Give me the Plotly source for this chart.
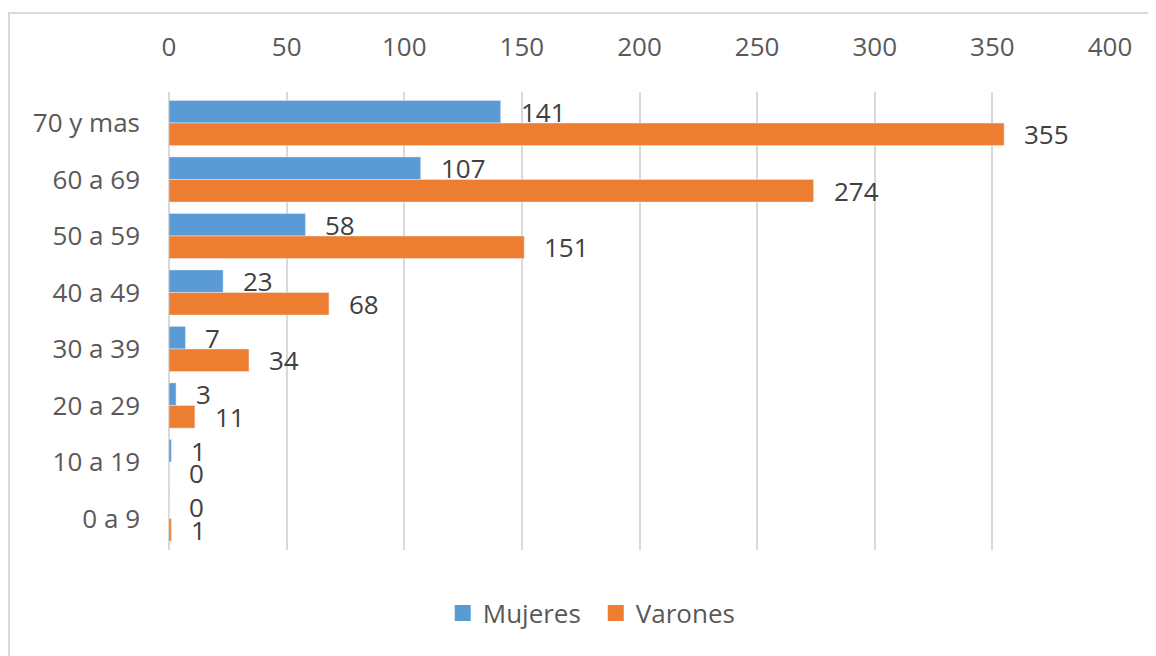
import plotly.graph_objects as go

# Datos por grupo de edad
grupos = ["70 y mas", "60 a 69", "50 a 59", "40 a 49", "30 a 39", "20 a 29", "10 a 19", "0 a 9"]
mujeres = [141, 107, 58, 23, 7, 3, 1, 0]
varones = [355, 274, 151, 68, 34, 11, 0, 1]
ticks_x = [0, 50, 100, 150, 200, 250, 300, 350, 400]

AZUL = "#5B9BD5"
NARANJA = "#ED7D31"
GRIS_TXT = "#595959"
FUENTE = "Open Sans"

fig = go.Figure()
fig.add_trace(go.Bar(y=grupos, x=mujeres, name="Mujeres", orientation="h",
                     marker_color=AZUL, showlegend=False))
fig.add_trace(go.Bar(y=grupos, x=varones, name="Varones", orientation="h",
                     marker_color=NARANJA, showlegend=False))

# leyenda con cuadrados más grandes (trazas vacías, solo para la leyenda)
for nombre, color in (("Mujeres", AZUL), ("Varones", NARANJA)):
    fig.add_trace(go.Scatter(x=[None], y=[None], mode="markers", name=nombre,
                             marker=dict(symbol="square", size=16, color=color)))

# etiquetas de datos a la derecha de cada barra
for serie, desplaz in ((mujeres, 11.5), (varones, -11)):
    for g, v in zip(grupos, serie):
        fig.add_annotation(x=v, y=g, text=str(v), showarrow=False,
                           xanchor="left", xshift=18, yshift=desplaz,
                           font=dict(family=FUENTE, size=26, color="#404040"))

# marco del gráfico
fig.add_shape(type="rect", xref="paper", yref="paper",
              x0=-0.170, x1=1.06, y0=-0.25, y1=1.1725,
              line=dict(color="#D9D9D9", width=2), layer="below")

# la página añade 8 px de margen al cuerpo: se compensa aquí
fig.update_layout(
    width=1148, height=648,
    margin=dict(l=161, r=46, t=84, b=106),
    paper_bgcolor="white", plot_bgcolor="white",
    barmode="group", bargap=0.2, bargroupgap=0,
    font=dict(family=FUENTE, size=26, color=GRIS_TXT),
    legend=dict(orientation="h", x=0.4535, xanchor="center", y=-0.1376,
                yanchor="middle", font=dict(size=26, color=GRIS_TXT),
                entrywidth=108, entrywidthmode="pixels"),
)
fig.update_xaxes(side="top", range=[0, 400], tickvals=ticks_x,
                 showgrid=True, gridcolor="#D9D9D9", gridwidth=1.5,
                 zeroline=True, zerolinecolor="#D9D9D9", zerolinewidth=1.5,
                 showline=False, ticks="", ticklabelstandoff=30,
                 automargin=False)
fig.update_yaxes(autorange="reversed", showgrid=False, showline=False,
                 ticks="", ticklabelstandoff=28, automargin=False)

fig.write_html("out.html")
